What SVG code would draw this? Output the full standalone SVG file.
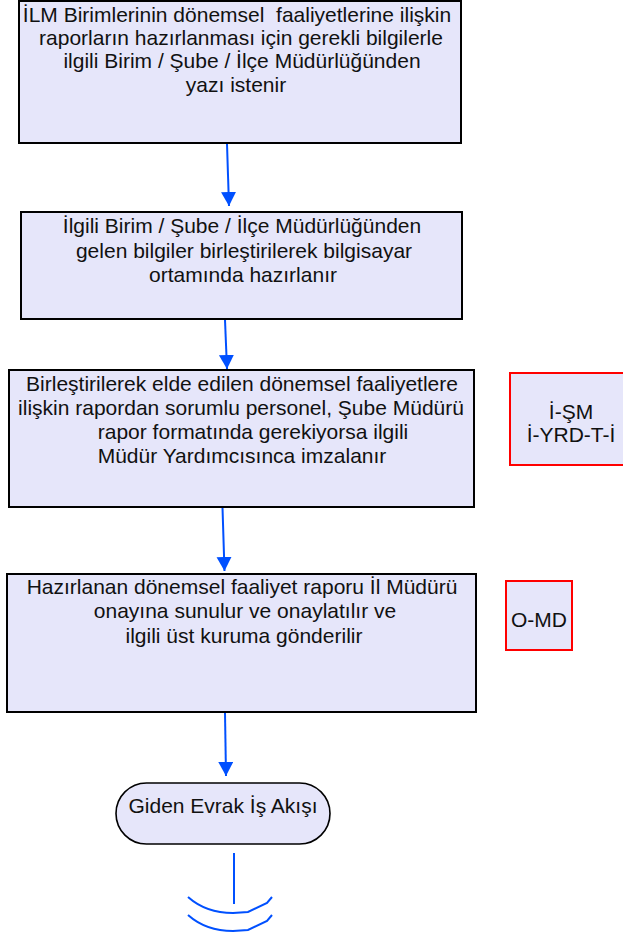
<svg xmlns="http://www.w3.org/2000/svg" width="623" height="938" viewBox="0 0 623 938">
<defs>
<style>
.box{fill:#E6E6FA;stroke:#000;stroke-width:2}
.rbox{fill:#E6E6FA;stroke:#FF0000;stroke-width:2}
.term{fill:#E6E6FA;stroke:#000;stroke-width:1.6}
text{font-family:"Liberation Sans",Arial,sans-serif;font-size:21px;fill:#111;text-anchor:middle}
.conn{stroke:#0050FF;stroke-width:2;fill:none}
</style>
<marker id="ah" markerUnits="userSpaceOnUse" markerWidth="16" markerHeight="16" refX="14" refY="7.5" orient="auto">
<path d="M0,0 L14,7.5 L0,15 z" fill="#0050FF"/>
</marker>
</defs>
<rect width="623" height="938" fill="#fff"/>
<g id="n1">
<rect class="box" x="19" y="1" width="442" height="142"/>
<text x="237" y="22" xml:space="preserve">İLM Birimlerinin dönemsel  faaliyetlerine ilişkin</text>
<text x="241" y="45">raporların hazırlanması için gerekli bilgilerle</text>
<text x="242" y="68">ilgili Birim / Şube / İlçe Müdürlüğünden</text>
<text x="236" y="92">yazı istenir</text>
</g>
<g id="n2">
<rect class="box" x="21" y="212" width="441" height="107"/>
<text x="242" y="233">İlgili Birim / Şube / İlçe Müdürlüğünden</text>
<text x="244" y="258">gelen bilgiler birleştirilerek bilgisayar</text>
<text x="243" y="282">ortamında hazırlanır</text>
</g>
<g id="n3">
<rect class="box" x="9" y="370" width="465" height="137"/>
<text x="242" y="391">Birleştirilerek elde edilen dönemsel faaliyetlere</text>
<text x="241" y="415">ilişkin rapordan sorumlu personel, Şube Müdürü</text>
<text x="253" y="439">rapor formatında gerekiyorsa ilgili</text>
<text x="242" y="463">Müdür Yardımcısınca imzalanır</text>
</g>
<g id="r1">
<rect class="rbox" x="510" y="373" width="114" height="92"/>
<text x="571" y="419">İ-ŞM</text>
<text x="571" y="442">İ-YRD-T-İ</text>
</g>
<g id="n4">
<rect class="box" x="7" y="574" width="469" height="138"/>
<text x="242" y="594">Hazırlanan dönemsel faaliyet raporu İl Müdürü</text>
<text x="245" y="618">onayına sunulur ve onaylatılır ve</text>
<text x="244" y="643">ilgili üst kuruma gönderilir</text>
</g>
<g id="r2">
<rect class="rbox" x="506" y="581" width="66" height="69"/>
<text x="539" y="627">O-MD</text>
</g>
<g id="n5">
<rect class="term" x="116" y="783" width="214" height="61" rx="30.5" ry="30.5"/>
<text x="223" y="813">Giden Evrak İş Akışı</text>
</g>
<g id="connectors">
<line class="conn" x1="227" y1="144" x2="229" y2="206" marker-end="url(#ah)"/>
<line class="conn" x1="225" y1="320" x2="227" y2="369" marker-end="url(#ah)"/>
<line class="conn" x1="222.5" y1="508" x2="224.5" y2="571" marker-end="url(#ah)"/>
<line class="conn" x1="225" y1="713" x2="226" y2="776" marker-end="url(#ah)"/>
<line class="conn" x1="234" y1="853" x2="234" y2="904"/>
<path class="conn" d="M188,897 Q206,913 233,913 L248,912 L267,903 L272,897"/>
<path class="conn" d="M188,915 Q206,931 233,931 L248,930 L267,921 L272,915"/>
</g>
</svg>
